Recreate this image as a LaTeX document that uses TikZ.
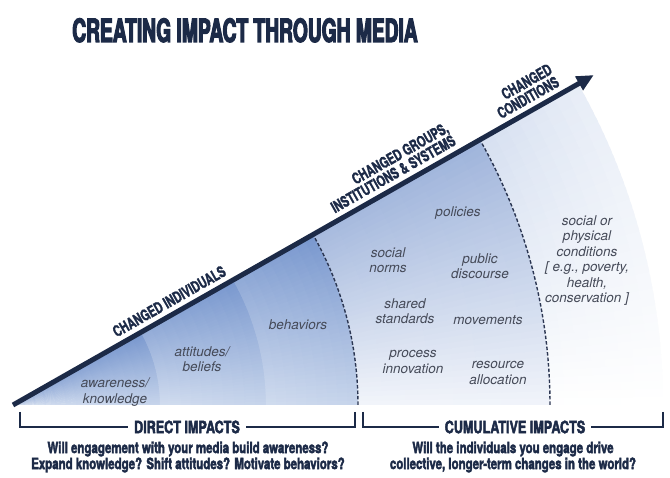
\documentclass[tikz,border=0pt]{standalone}
\usepackage{fontspec}
\setmainfont{TeX Gyre Heros}
\newfontfamily\titlefont[FakeStretch=0.6,FakeBold=3.5]{TeX Gyre Heros}
\newfontfamily\labfont[FakeStretch=0.7,FakeBold=1.5]{TeX Gyre Heros}
\newfontfamily\heavyfont[FakeStretch=0.74,FakeBold=2.5]{TeX Gyre Heros}
\usetikzlibrary{arrows.meta,calc}
\definecolor{navy}{HTML}{1C2A47}
\definecolor{labelgray}{HTML}{454A58}
\definecolor{dashc}{HTML}{2B3652}
\definecolor{topA}{HTML}{7897CE}
\definecolor{botA}{HTML}{C6D4EB}
\definecolor{topB}{HTML}{9FB4DB}
\definecolor{botB}{HTML}{F1F4FA}
\definecolor{topC}{HTML}{D5DFF0}
\definecolor{botC}{HTML}{FFFFFF}
\def\angmax{29.6}
\def\angstep{0.74}
% #1 r1, #2 r2, #3 rings, #4 top colour, #5 bottom colour, #6 white share at inner edge, #7 white share at outer edge, #8 overlap of last ring
\newcommand{\conicband}[8]{%
  \foreach \i in {1,...,40}{%
    \pgfmathsetmacro\aA{(\i-1)*\angstep}%
    \pgfmathsetmacro\aB{min(\i*\angstep+0.4,\angmax)}%
    \pgfmathsetmacro\pa{100*(\i-0.5)/40}%
    \foreach \j in {1,...,#3}{%
      \pgfmathsetmacro\rA{#1+(\j-1)*(#2-#1)/#3}%
      \pgfmathsetmacro\rB{#1+\j*(#2-#1)/#3+((\j<#3)?1:#8)}%
      \pgfmathsetmacro\pw{100*((1-(\j-0.5)/#3)*#6+((\j-0.5)/#3)*#7)}%
      \colorlet{cellA}{#4!\pa!#5}%
      \colorlet{cellB}{white!\pw!cellA}%
      \fill[cellB] (\aA:\rA pt) arc[start angle=\aA,end angle=\aB,radius=\rA pt]
        -- (\aB:\rB pt) arc[start angle=\aB,end angle=\aA,radius=\rB pt] -- cycle;
    }%
  }%
}
\begin{document}
\begin{tikzpicture}[x=1pt,y=1pt,
  itlabel/.style={font=\itshape\fontsize{13.5}{15.5}\selectfont, text=labelgray, align=center, inner sep=0pt},
  arrowlabel/.style={font=\labfont\bfseries\fontsize{15.5}{14.5}\selectfont, text=navy, inner sep=0pt, rotate=29.6},
  bracketline/.style={line width=1.8pt, draw=navy},
  brackettext/.style={font=\heavyfont\bfseries\fontsize{17}{17}\selectfont, text=navy, fill=white, inner xsep=6pt, inner ysep=1pt},
  question/.style={font=\heavyfont\bfseries\fontsize{15.5}{16}\selectfont, text=navy, align=center, inner sep=0pt},
  dasharc/.style={draw=dashc, line width=1.4pt, dash pattern=on 3.5pt off 2pt},
  mainarrow/.style={draw=navy, line width=5pt, -{Triangle[length=17pt,width=15pt]}},
]
\useasboundingbox (0,0) rectangle (670,478);
\fill[white] (0,0) rectangle (670,478);

\coordinate (O) at (13,73);
\coordinate (tip) at ($(O)+(29.6:668pt)$);

% shaded wedge
\begin{scope}[shift={(O)}]
  \conicband{0.5}{147}{14}{topA}{botA}{0.24}{0.0}{1}
  \conicband{147}{253}{10}{topA}{botA}{0.20}{0.0}{1}
  \conicband{253}{345}{9}{topA}{botA}{0.18}{0.0}{1}
  \conicband{345}{537}{8}{topB}{botB}{0.08}{0.0}{1}
  \conicband{537}{650}{8}{topC}{botC}{0.0}{0.45}{0}
  \draw[dasharc] (0:345pt) arc[start angle=0,end angle=\angmax,radius=345pt];
  \draw[dasharc] (0:537pt) arc[start angle=0,end angle=\angmax,radius=537pt];
\end{scope}

% main arrow
\draw[mainarrow] (O) -- (tip);

% arrow labels
\node[arrowlabel, anchor=south] (lind) at ($(O)+(29.6:187pt)+(119.6:7pt)$) {CHANGED INDIVIDUALS};
\node[arrowlabel, anchor=south east, align=right] (lgrp) at ($(O)+(29.6:515pt)+(119.6:7pt)$) {CHANGED GROUPS,\\INSTITUTIONS \& SYSTEMS};
\node[arrowlabel, anchor=south east, align=right] (lcond) at ($(O)+(29.6:634pt)+(119.6:7pt)$) {CHANGED\\CONDITIONS};

% title
\node[anchor=base, font=\titlefont\bfseries\fontsize{32}{32}\selectfont, text=navy, inner sep=0pt] (title) at (245,436) {CREATING IMPACT THROUGH MEDIA};

% italic labels
\node[itlabel] (aware) at (115,86) {awareness/\\knowledge};
\node[itlabel] (attit) at (202,119) {attitudes/\\beliefs};
\node[itlabel] (behav) at (298,153) {behaviors};
\node[itlabel] (polic) at (458,265) {policies};
\node[itlabel] (snorm) at (388,218) {social\\norms};
\node[itlabel] (pdisc) at (480,212) {public\\discourse};
\node[itlabel] (sstd) at (405,167) {shared\\standards};
\node[itlabel] (movem) at (488,158) {movements};
\node[itlabel] (proc) at (413,116) {process\\innovation};
\node[itlabel] (resal) at (498,105) {resource\\allocation};
\node[itlabel] (condl) at (587,217.5) {social or\\physical\\conditions\\{[} e.g., poverty,\\health,\\conservation ]};

% brackets
\coordinate (L1) at (20,66);
\coordinate (L2) at (355,66);
\coordinate (R1) at (363,66);
\coordinate (R2) at (663,66);
\node[brackettext] (dtext) at (187,51) {DIRECT IMPACTS};
\node[brackettext] (ctext) at (515,51) {CUMULATIVE IMPACTS};
\draw[bracketline] (L1) |- (dtext.west);
\draw[bracketline] (L2) |- (dtext.east);
\draw[bracketline] (R1) |- (ctext.west);
\draw[bracketline] (R2) |- (ctext.east);

% questions
\node[question] (q1) at (188,21) {Will engagement with your media build awareness?\\Expand knowledge? Shift attitudes? Motivate behaviors?};
\node[question] (q2) at (513,21) {Will the individuals you engage drive\\collective, longer-term changes in the world?};
\end{tikzpicture}
\end{document}
